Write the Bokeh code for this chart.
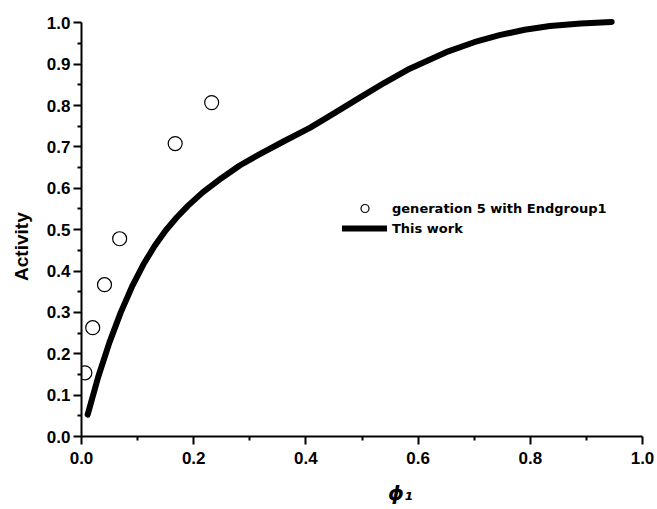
from bokeh.plotting import figure
from bokeh.models import (Legend, LegendItem, NumeralTickFormatter,
                          FixedTicker, Range1d)
from bokeh.embed import file_html
from bokeh.resources import INLINE

# Measured activity, generation 5 dendrimer with Endgroup1
phi_exp = [0.006, 0.020, 0.041, 0.068, 0.167, 0.232]
act_exp = [0.154, 0.263, 0.367, 0.478, 0.708, 0.807]

# Model curve ("This work")
phi_model = [0.011, 0.030, 0.050, 0.070, 0.090, 0.110, 0.130, 0.150, 0.170,
             0.190, 0.216, 0.250, 0.282, 0.317, 0.360, 0.407, 0.450, 0.496,
             0.540, 0.585, 0.650, 0.700, 0.745, 0.790, 0.835, 0.890, 0.945]
act_model = [0.053, 0.145, 0.228, 0.300, 0.362, 0.415, 0.460, 0.498, 0.530,
             0.558, 0.590, 0.625, 0.655, 0.682, 0.713, 0.746, 0.781, 0.819,
             0.855, 0.889, 0.929, 0.953, 0.970, 0.983, 0.992, 0.998, 1.002]

x_ticks = [0.0, 0.2, 0.4, 0.6, 0.8, 1.0]
y_ticks = [0.0, 0.1, 0.2, 0.3, 0.4, 0.5, 0.6, 0.7, 0.8, 0.9, 1.0]

exp_label = "generation 5 with Endgroup1"
model_label = "This work"

p = figure(width=657, height=509, output_backend="svg", toolbar_location=None,
           x_range=Range1d(0, 1.0), y_range=Range1d(0, 1.02))
p.min_border_left = 81
p.min_border_right = 15
p.min_border_top = 14
p.min_border_bottom = 73
p.outline_line_color = None
p.xgrid.visible = False
p.ygrid.visible = False
p.background_fill_color = "white"
p.border_fill_color = "white"

model = p.line(phi_model, act_model, line_color="black", line_width=6,
               line_cap="round", line_join="round")
exp = p.scatter(phi_exp, act_exp, marker="circle", size=14,
                fill_color="white", line_color="black", line_width=1.2)

for ax, ticks in ((p.xaxis[0], x_ticks), (p.yaxis[0], y_ticks)):
    step = ticks[1] - ticks[0]
    ax.ticker = FixedTicker(ticks=ticks,
                            minor_ticks=[t + step / 2 for t in ticks[:-1]])
    ax.formatter = NumeralTickFormatter(format="0.0")
    ax.bounds = (0, 1)
    ax.axis_line_width = 2
    ax.axis_line_color = "black"
    ax.major_tick_line_width = 2
    ax.minor_tick_line_width = 2
    ax.major_tick_in = 0
    ax.minor_tick_in = 0
    ax.major_tick_out = 8
    ax.minor_tick_out = 4
    ax.major_label_text_font = "Liberation Sans"
    ax.major_label_text_font_style = "bold"
    ax.major_label_text_font_size = "17px"
    ax.major_label_text_color = "black"
    ax.axis_label_text_font = "Liberation Sans"
    ax.axis_label_text_color = "black"

p.xaxis.major_label_standoff = 7
p.yaxis.major_label_standoff = 3

# Axis titles (non-breaking spaces nudge them off the frame centre)
p.yaxis.axis_label = "Activity" + "\u00a0" * 8
p.yaxis.axis_label_text_font_style = "bold"
p.yaxis.axis_label_text_font_size = "19px"
p.yaxis.axis_label_standoff = 12
p.xaxis.axis_label = "\u00a0" * 11 + "\u03d5\u2081"
p.xaxis.axis_label_text_font = "DejaVu Sans"
p.xaxis.axis_label_text_font_style = "bold italic"
p.xaxis.axis_label_text_font_size = "20px"
p.xaxis.axis_label_standoff = 14

legend = Legend(items=[LegendItem(label=exp_label, renderers=[exp]),
                       LegendItem(label=model_label, renderers=[model])],
                location=(261, 198), orientation="vertical",
                glyph_width=45, glyph_height=20, label_height=20,
                label_standoff=5, spacing=0, padding=0, margin=0,
                border_line_color=None, background_fill_alpha=0,
                label_text_font="DejaVu Sans", label_text_font_style="bold",
                label_text_font_size="13px", label_text_color="black")
p.add_layout(legend, "center")

open("out.html", "w").write(file_html(p, INLINE))
